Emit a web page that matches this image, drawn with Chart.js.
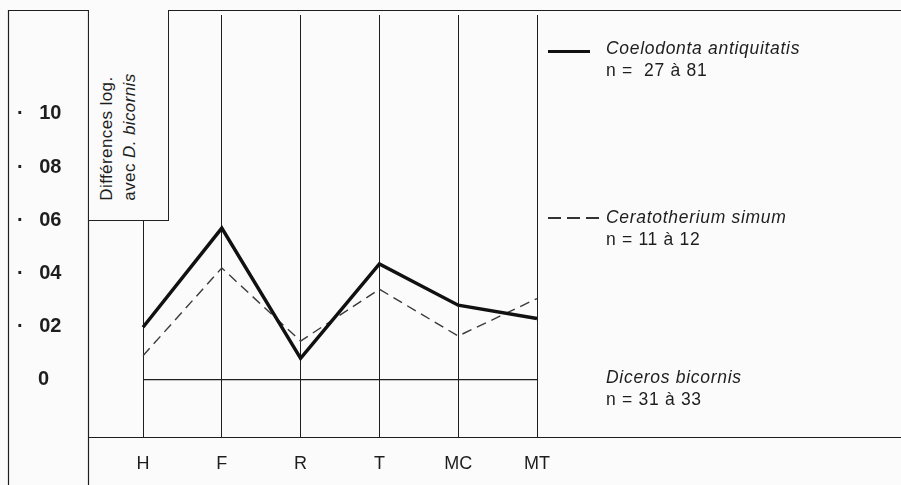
<!DOCTYPE html>
<html lang="fr">
<head>
<meta charset="utf-8">
<title>Différences log. avec D. bicornis</title>
<script src="https://cdn.jsdelivr.net/npm/chart.js@4.4.1/dist/chart.umd.min.js"></script>
<style>
  html, body { margin: 0; padding: 0; background: #fbfbfb; }
  #wrap { position: relative; width: 901px; height: 485px; overflow: hidden; font-family: "Liberation Sans", Arial, sans-serif; color: #1e1e1e; }
  #wrap canvas { position: absolute; left: 0; top: 0; }
  .ybox { position: absolute; left: 88px; top: 10px; width: 79px; height: 210px; border: 1px solid #222; border-top: none; background: #fbfbfb; }
  .ybox .lbl { position: absolute; left: 29px; top: 127px; transform: translate(-50%, -50%) rotate(-90deg); white-space: nowrap; font-size: 17px; line-height: 23px; letter-spacing: 0.4px; }
  .leg { position: absolute; left: 606px; font-size: 17.5px; line-height: 22px; letter-spacing: 0.7px; white-space: nowrap; }
  .leg i { font-style: italic; }
  .swatch { position: absolute; left: 548px; }
  .dash { height: 1.5px; background: repeating-linear-gradient(90deg, #333 0 13px, transparent 13px 19px); }
</style>
</head>
<body>
<div id="wrap">
  <canvas id="rhinoChart" width="901" height="485"></canvas>
  <div class="ybox"><div class="lbl">Différences log.<br>avec <i>D. bicornis</i></div></div>
  <div class="swatch" style="top:50px;width:42px;height:3px;background:#111;"></div>
  <div class="leg" style="top:37px"><i>Coelodonta antiquitatis</i><br>n = &nbsp;27 à 81</div>
  <div class="swatch dash" style="top:217px;width:57px;"></div>
  <div class="leg" style="top:206px"><i>Ceratotherium simum</i><br>n = 11 à 12</div>
  <div class="leg" style="top:366px"><i>Diceros bicornis</i><br>n = 31 à 33</div>
</div>
<script>
// ===== BONES: log differences vs Diceros bicornis =====

const BONES = ['H', 'F', 'R', 'T', 'MC', 'MT'];
const COELODONTA = [0.0197, 0.057, 0.008, 0.0435, 0.028, 0.023];
const CERATOTHERIUM = [0.009, 0.042, 0.0145, 0.034, 0.0164, 0.0305];
const DICEROS = [0, 0, 0, 0, 0, 0];
const Y_TICKS = [0, 0.02, 0.04, 0.06, 0.08, 0.10];

const INK = '#1e1e1e';

// frame lines around the plot (the book figure's box)
const framePlugin = {
  id: 'frame',
  beforeDatasetsDraw(chart) {
    const { ctx, chartArea, width, height } = chart;
    ctx.save();
    ctx.strokeStyle = INK;
    ctx.lineWidth = 1.2;
    ctx.beginPath();
    ctx.moveTo(8, 10.5); ctx.lineTo(width, 10.5);             // top
    ctx.moveTo(8.5, 10); ctx.lineTo(8.5, height);             // left edge
    ctx.moveTo(88.5, 10); ctx.lineTo(88.5, height);           // inner left
    ctx.moveTo(88, chartArea.bottom + 0.5); ctx.lineTo(width, chartArea.bottom + 0.5); // base
    ctx.stroke();
    ctx.restore();
  }
};

// "· 10", "· 08" ... and a bare "0" lined up with the digits
function fmtTick(v) {
  if (v === 0) return '  \u20020';
  return '· \u2002' + (v * 100).toFixed(0).padStart(2, '0');
}

function renderChart() {
  const ctx = document.getElementById('rhinoChart').getContext('2d');
  new Chart(ctx, {
    type: 'line',
    data: {
      labels: BONES,
      datasets: [
        { label: 'Coelodonta antiquitatis', data: COELODONTA, borderColor: '#111', borderWidth: 3.5 },
        { label: 'Ceratotherium simum', data: CERATOTHERIUM, borderColor: '#3a3a3a', borderWidth: 1.4, borderDash: [10, 6] },
        { label: 'Diceros bicornis', data: DICEROS, borderColor: INK, borderWidth: 1.3 }
      ]
    },
    options: {
      responsive: false,
      animation: false,
      devicePixelRatio: 1,
      elements: { point: { radius: 0 }, line: { tension: 0, borderCapStyle: 'butt' } },
      layout: { padding: { left: 17, top: 10, right: 364, bottom: 0 } },
      plugins: { legend: { display: false }, tooltip: { enabled: false } },
      scales: {
        x: {
          type: 'category',
          offset: false,
          grid: { color: INK, lineWidth: 1, drawTicks: false },
          border: { display: false },
          ticks: { padding: 16, color: INK, font: { family: 'Liberation Sans', size: 18 }, maxRotation: 0 },
          afterFit: s => { s.height = 48; }
        },
        y: {
          min: -0.0216,
          max: 0.1372,
          grid: { display: false, drawTicks: false },
          border: { display: false },
          afterBuildTicks: s => { s.ticks = Y_TICKS.map(v => ({ value: v })); },
          afterFit: s => { s.width = 126; },
          ticks: {
            crossAlign: 'far',
            color: INK,
            font: { family: 'Liberation Sans', size: 20, weight: 'bold' },
            callback: v => fmtTick(v)
          }
        }
      }
    },
    plugins: [framePlugin]
  });
}

document.addEventListener('DOMContentLoaded', renderChart);
</script>
</body>
</html>
